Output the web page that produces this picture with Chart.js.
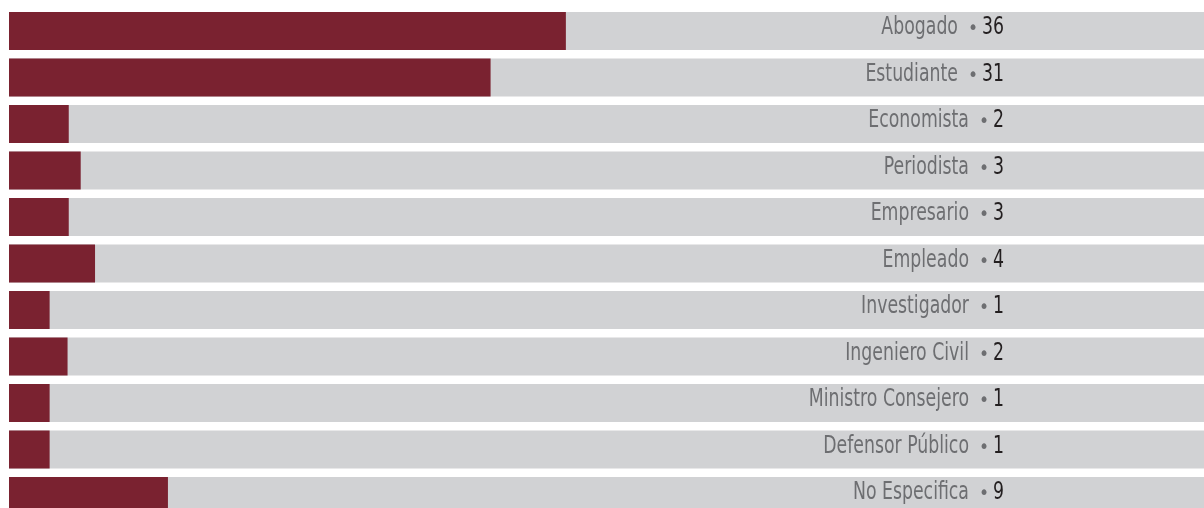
<!DOCTYPE html>
<html>
<head>
<meta charset="utf-8">
<script src="https://cdn.jsdelivr.net/npm/chart.js@4.4.1/dist/chart.umd.min.js"></script>
<style>
  html, body { margin: 0; padding: 0; background: #ffffff; overflow: hidden; }
  #wrap { width: 1204px; height: 508px; overflow: hidden; }
  canvas { display: block; }
</style>
</head>
<body>
<div id="wrap"><canvas id="c" width="1204" height="520"></canvas></div>
<script>
// Categories (occupations) and their displayed counts
const categories = ["Abogado", "Estudiante", "Economista", "Periodista", "Empresario", "Empleado",
  "Investigador", "Ingeniero Civil", "Ministro Consejero", "Defensor Público", "No Especifica"];
const counts = [36, 31, 2, 3, 3, 4, 1, 2, 1, 1, 9];
// Bar lengths, in percent of the full grey track
const barValues = [46.6, 40.3, 5.0, 6.0, 5.0, 7.2, 3.4, 4.9, 3.4, 3.4, 13.3];
const trackValues = categories.map(() => 100);
const axisMax = 100;

const FONT = '"DejaVu Sans Condensed", "DejaVu Sans", sans-serif';
const SQUEEZE = 0.77; // horizontal squeeze to imitate a condensed face

function drawText(ctx, txt, x, y, align) {
  ctx.save();
  ctx.translate(x, y);
  ctx.scale(SQUEEZE, 1);
  ctx.textAlign = align;
  ctx.fillText(txt, 0, 0);
  ctx.restore();
}

const labelPlugin = {
  id: 'rowLabels',
  afterDatasetsDraw(chart) {
    const ctx = chart.ctx;
    const yScale = chart.scales.y;
    const rightX = 1004;
    ctx.save();
    ctx.textBaseline = 'alphabetic';
    categories.forEach((cat, i) => {
      const yc = yScale.getPixelForValue(i);
      const base = yc + 3;
      const num = String(counts[i]);
      ctx.font = '25px ' + FONT;
      ctx.fillStyle = '#231f20';
      drawText(ctx, num, rightX, base, 'right');
      const numW = ctx.measureText(num).width * SQUEEZE;
      const bulletX = rightX - numW - 9;
      ctx.fillStyle = '#6d6e71';
      ctx.font = '19px ' + FONT;
      ctx.textAlign = 'center';
      ctx.fillText('•', bulletX, base);
      ctx.font = '25px ' + FONT;
      drawText(ctx, cat, bulletX - 15, base, 'right');
    });
    ctx.restore();
  }
};

new Chart(document.getElementById('c'), {
  type: 'bar',
  data: {
    labels: categories,
    datasets: [
      {
        label: 'Valor',
        data: barValues,
        backgroundColor: '#7a2230',
        borderWidth: 0,
        grouped: false,
        order: 1,
        barPercentage: 0.8172,
        categoryPercentage: 1
      },
      {
        label: 'Total',
        data: trackValues,
        backgroundColor: '#d1d2d4',
        borderWidth: 0,
        grouped: false,
        order: 2,
        barPercentage: 0.8172,
        categoryPercentage: 1
      }
    ]
  },
  options: {
    indexAxis: 'y',
    responsive: false,
    animation: false,
    devicePixelRatio: 1,
    layout: { padding: { left: 9, right: 0, top: 7.75, bottom: 0.75 } },
    plugins: { legend: { display: false }, tooltip: { enabled: false } },
    scales: {
      x: { display: false, min: 0, max: axisMax },
      y: { display: false }
    }
  },
  plugins: [labelPlugin]
});
</script>
</body>
</html>
